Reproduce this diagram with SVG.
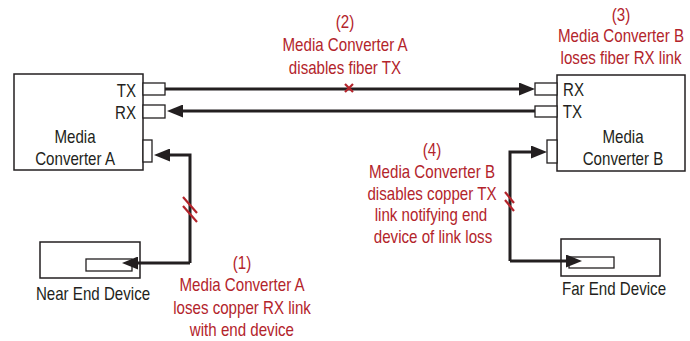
<svg xmlns="http://www.w3.org/2000/svg" width="690" height="341" viewBox="0 0 690 341">
<style>
.box{fill:#fff;stroke:#231f20;stroke-width:1.5}
.port{fill:#fff;stroke:#231f20;stroke-width:1.3}
.lbl,.note{font-family:"Liberation Sans",Arial,sans-serif;font-size:18px;transform-box:fill-box;transform-origin:center;transform:scaleX(0.84)}
.lbl{fill:#231f20}
.note{fill:#b3242b;text-anchor:middle}
.mid{text-anchor:middle}
.end{text-anchor:end}
.wire{fill:none;stroke:#231f20;stroke-width:3}
.brk{stroke:#b3242b;stroke-width:2.2;fill:none}
</style>
<defs>
<marker id="arr" viewBox="0 0 16 13" refX="6" refY="6.5" markerWidth="16" markerHeight="13" orient="auto" markerUnits="userSpaceOnUse">
<path d="M0,0 L16,6.5 L0,13 z" fill="#231f20"/>
</marker>
</defs>

<g id="mcA">
<rect class="box" x="14" y="74" width="129" height="96"/>
<rect class="port" x="143" y="83" width="22" height="12"/>
<rect class="port" x="143" y="105" width="22" height="13"/>
<rect class="port" x="143" y="140" width="9" height="22"/>
<text class="lbl end" x="138" y="97">TX</text>
<text class="lbl end" x="138" y="119">RX</text>
<text class="lbl mid" x="75" y="143">Media</text>
<text class="lbl mid" x="75" y="165">Converter A</text>
</g>

<g id="mcB">
<rect class="box" x="557" y="75" width="128" height="96"/>
<rect class="port" x="535" y="83" width="22" height="12"/>
<rect class="port" x="535" y="106" width="22" height="11"/>
<rect class="port" x="547" y="140" width="10" height="23"/>
<text class="lbl" x="561" y="96">RX</text>
<text class="lbl" x="561" y="118">TX</text>
<text class="lbl mid" x="623" y="143">Media</text>
<text class="lbl mid" x="623" y="165">Converter B</text>
</g>

<g id="nearEnd">
<rect class="box" x="40" y="242" width="100" height="36"/>
<rect class="port" x="86" y="259" width="46" height="12"/>
<text class="lbl mid" x="93" y="300">Near End Device</text>
</g>

<g id="farEnd">
<rect class="box" x="561" y="239" width="99" height="37"/>
<rect class="port" x="569" y="257" width="45" height="11"/>
<text class="lbl mid" x="614" y="295">Far End Device</text>
</g>

<g id="connectors">
<path class="wire" d="M165,89 H525" marker-end="url(#arr)"/>
<path class="wire" d="M535,111 H177" marker-end="url(#arr)"/>
<path class="wire" d="M190,263 V155 H164" marker-end="url(#arr)"/>
<path class="wire" d="M190,263 H132" marker-end="url(#arr)"/>
<path class="wire" d="M510,261 V152 H537" marker-end="url(#arr)"/>
<path class="wire" d="M510,261 H572" marker-end="url(#arr)"/>
<path class="brk" d="M183,197 L197,213 M183,206 L197,222"/>
<path class="brk" d="M505,192 L514,203 M505,200 L514,211"/>
<path class="brk" d="M345,84 L353,92 M353,84 L345,92"/>
</g>

<g id="note2">
<text class="note" x="345" y="28">(2)</text>
<text class="note" x="345" y="51">Media Converter A</text>
<text class="note" x="345" y="74">disables fiber TX</text>
</g>
<g id="note3">
<text class="note" x="621" y="21">(3)</text>
<text class="note" x="621" y="42">Media Converter B</text>
<text class="note" x="621" y="64">loses fiber RX link</text>
</g>
<g id="note1">
<text class="note" x="242" y="269">(1)</text>
<text class="note" x="242" y="291">Media Converter A</text>
<text class="note" x="242" y="314">loses copper RX link</text>
<text class="note" x="242" y="336">with end device</text>
</g>
<g id="note4">
<text class="note" x="432" y="156">(4)</text>
<text class="note" x="432" y="178">Media Converter B</text>
<text class="note" x="432" y="200">disables copper TX</text>
<text class="note" x="431" y="221">link notifying end</text>
<text class="note" x="433" y="243">device of link loss</text>
</g>
</svg>
